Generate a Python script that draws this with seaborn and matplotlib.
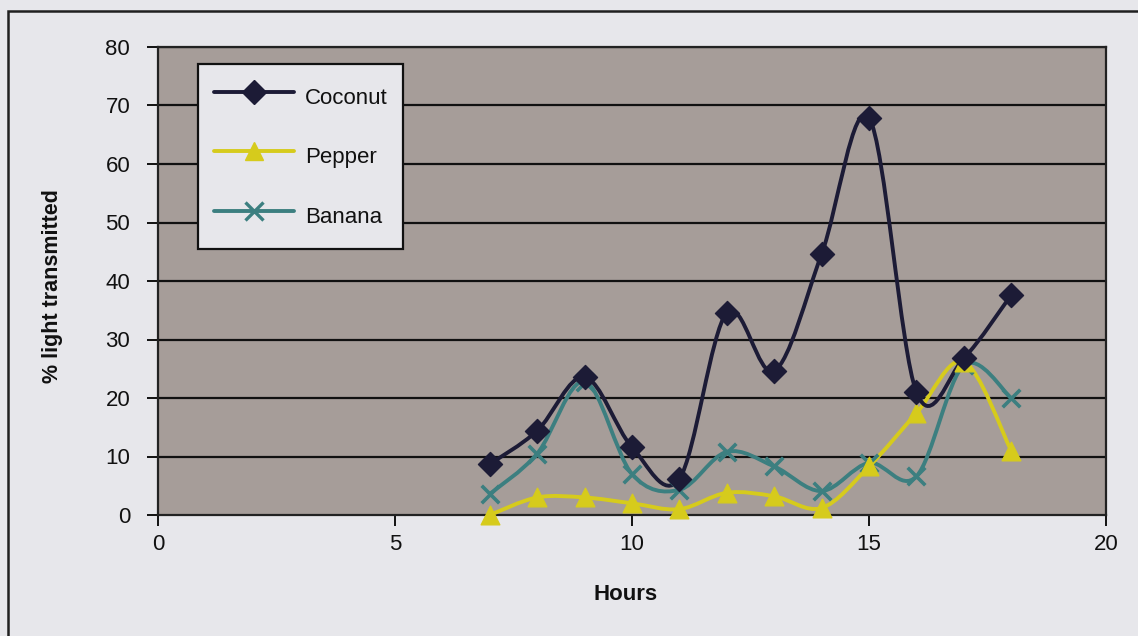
import numpy as np
import pandas as pd
import matplotlib
matplotlib.use("Agg")
import matplotlib.pyplot as plt
from matplotlib.path import Path
from matplotlib.patches import PathPatch, Rectangle
from matplotlib.lines import Line2D
import seaborn as sns

hours = [7, 8, 9, 10, 11, 12, 13, 14, 15, 16, 17, 18]
coconut = [8.7, 14.4, 23.6, 11.6, 6.2, 34.6, 24.6, 44.6, 67.9, 21.0, 26.8, 37.6]
pepper = [0.0, 3.0, 3.0, 2.0, 1.0, 3.8, 3.2, 1.2, 8.3, 17.4, 26.2, 11.0]
banana = [3.6, 10.5, 22.8, 7.0, 4.3, 10.8, 8.3, 4.1, 8.9, 6.6, 25.6, 20.0]
series_names = ["Coconut", "Pepper", "Banana"]
x_ticks = [0, 5, 10, 15, 20]
y_ticks = [0, 10, 20, 30, 40, 50, 60, 70, 80]

df = pd.DataFrame({"Hours": hours * 3,
                   "value": coconut + pepper + banana,
                   "series": np.repeat(series_names, len(hours))})

colors = {"Coconut": "#1c1b36", "Pepper": "#d6cb1c", "Banana": "#3c7f80"}
markers = {"Coconut": "D", "Pepper": "^", "Banana": "x"}
msizes = {"Coconut": 150, "Pepper": 180, "Banana": 160}

sns.set_style("white")
plt.rcParams["font.family"] = ["Liberation Sans", "DejaVu Sans"]

FS = 16

fig = plt.figure(figsize=(11.38, 6.36), dpi=100)
fig.patch.set_facecolor("#e7e7eb")
ax = fig.add_axes([158 / 1138, 1 - 515 / 636, 948 / 1138, 468 / 636])
ax.set_facecolor("#a69d99")

# outer chart frame
fig.add_artist(Rectangle((8 / 1138, -0.05), 1.2, 1 - 11 / 636 + 0.05,
                         transform=fig.transFigure, fill=False,
                         edgecolor="#202020", linewidth=1.8))

for yv in y_ticks[1:]:
    ax.axhline(yv, color="#111111", linewidth=1.6, zorder=1)


def smooth_path(xs, ys):
    # Catmull-Rom style cubic Bezier through each point (chart "smoothed line")
    pts = np.column_stack([xs, ys]).astype(float)
    n = len(pts)
    verts = [pts[0]]
    codes = [Path.MOVETO]
    for i in range(n - 1):
        p0 = pts[i - 1] if i > 0 else pts[i]
        p1 = pts[i]
        p2 = pts[i + 1]
        p3 = pts[i + 2] if i + 2 < n else pts[i + 1]
        c1 = p1 + (p2 - p0) / 6.0
        c2 = p2 - (p3 - p1) / 6.0
        verts += [c1, c2, p2]
        codes += [Path.CURVE4] * 3
    return Path(verts, codes)


for name, vals, z in [("Banana", banana, 3), ("Pepper", pepper, 4), ("Coconut", coconut, 5)]:
    ax.add_patch(PathPatch(smooth_path(hours, vals), facecolor="none",
                           edgecolor=colors[name], linewidth=2.8, zorder=z,
                           capstyle="round", joinstyle="round"))

for name, z in [("Banana", 6), ("Pepper", 7), ("Coconut", 8)]:
    sub = df[df["series"] == name]
    kw = dict(linewidth=2.6) if markers[name] == "x" else dict(edgecolor=colors[name], linewidth=1)
    sns.scatterplot(data=sub, x="Hours", y="value", ax=ax, color=colors[name],
                    marker=markers[name], s=msizes[name], zorder=z, legend=False,
                    clip_on=False, **kw)

ax.set_xlim(0, 20)
ax.set_ylim(0, 80)
ax.set_xticks(x_ticks)
ax.set_yticks(y_ticks)
ax.tick_params(axis="both", direction="out", length=8, width=1.4, color="#111111",
               labelsize=FS, labelcolor="#111111", bottom=True, left=True)
ax.tick_params(axis="x", pad=6)
ax.tick_params(axis="y", pad=12)
for sp in ax.spines.values():
    sp.set_visible(True)
    sp.set_color("#222222")
    sp.set_linewidth(1.6)
ax.set_xlabel("Hours", fontsize=FS, fontweight="bold", color="#111111")
ax.set_ylabel("% light transmitted", fontsize=15.5, fontweight="bold", color="#111111")
ax.xaxis.set_label_coords(0.493, (515 - 594) / 468)
ax.xaxis.label.set_va("center")
ax.yaxis.set_label_coords((53 - 158) / 948, 0.49)
ax.yaxis.label.set_va("center")

handles = [Line2D([], [], color=colors[n], marker=markers[n], linewidth=2.8,
                  markersize=13 if n != "Coconut" else 12,
                  markeredgewidth=2.4 if n == "Banana" else 1)
           for n in series_names]
leg = ax.legend(handles, series_names, loc="upper left",
                bbox_to_anchor=(40 / 948, (515 - 64) / 468), fontsize=FS,
                handlelength=3.6, handleheight=2.0, labelspacing=1.14,
                borderpad=0.7, handletextpad=0.5, frameon=True, fancybox=False,
                borderaxespad=0)
for t in leg.get_texts():
    t.set_color("#111111")
leg.get_frame().set_facecolor("#e7e7eb")
leg.get_frame().set_edgecolor("#111111")
leg.get_frame().set_linewidth(1.6)
leg.get_frame().set_alpha(1)
leg.set_zorder(20)

fig.savefig("out.png", dpi=100, facecolor=fig.get_facecolor())
